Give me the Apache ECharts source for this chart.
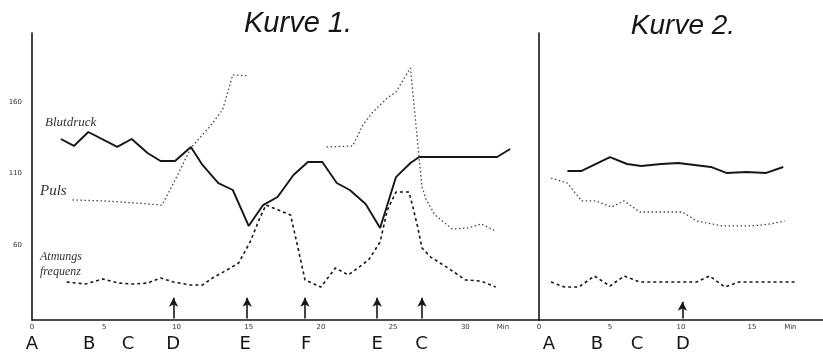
<!DOCTYPE html>
<html>
<head>
<meta charset="utf-8">
<script src="https://cdn.jsdelivr.net/npm/echarts@6/dist/echarts.min.js"></script>
<style>html,body{margin:0;padding:0;background:#fff}#c{width:823px;height:353px}</style>
</head>
<body>
<div id="c"></div>
<script>
// ---- Kurve 1 data: [minute, value] ----
const blutdruck1 = [[2.0,134.4],[2.9,129.5],[3.9,139.3],[5.9,128.8],[6.9,134.4],[8.0,124.5],[8.9,118.9],[9.9,118.9],[11.0,128.8],[11.8,116.1],[12.9,103.4],[13.9,98.5],[15.0,73.2],[16.0,87.9],[17.0,93.6],[18.1,109.1],[19.1,118.2],[20.1,118.2],[21.1,103.4],[22.0,98.5],[23.1,88.6],[24.1,71.8],[25.2,107.6],[26.2,117.5],[26.8,121.7],[32.2,121.7],[33.1,127.4]];
const puls1a = [[2.8,91.5],[5.0,90.8],[7.0,89.5],[9.0,87.9],[9.8,103.4],[11.0,128.1],[12.3,143.0],[13.2,155.0],[13.9,179.6],[14.9,178.9]];
const puls1b = [[20.4,128.8],[22.2,129.5],[22.9,144.2],[23.6,153.4],[24.6,163.3],[25.2,167.5],[26.2,184.4],[26.7,131.6],[27.0,100.6],[27.3,91.5],[27.9,80.9],[29.1,71.0],[30.2,71.8],[31.1,74.6],[32.1,69.6]];
const atmung1 = [[2.4,33.7],[3.7,32.3],[4.9,35.9],[6.0,33.0],[7.0,32.3],[8.0,33.0],[8.9,36.6],[9.8,33.7],[11.0,31.6],[11.8,31.6],[12.5,36.6],[13.5,42.2],[14.3,47.1],[15.1,61.9],[15.8,79.5],[16.2,87.9],[17.9,80.9],[18.4,58.4],[18.9,35.2],[20.0,30.2],[21.0,43.6],[21.9,38.7],[23.3,49.2],[24.1,61.9],[24.6,84.4],[25.2,97.1],[26.1,97.1],[26.3,89.3],[26.7,72.5],[27.0,57.7],[27.6,51.3],[28.8,43.6],[30.0,35.2],[31.1,34.4],[32.1,30.2]];
// ---- Kurve 2 data ----
const blutdruck2 = [[2.0,111.9],[3.0,111.9],[5.0,121.7],[6.2,116.8],[7.2,115.4],[8.6,116.8],[9.8,117.5],[12.1,114.7],[13.2,110.5],[14.6,111.2],[16.0,110.5],[17.2,114.7]];
const puls2 = [[0.85,106.9],[2.0,103.4],[3.0,90.8],[4.0,90.8],[5.1,86.5],[6.0,90.8],[7.1,83.0],[10.1,83.0],[11.1,76.7],[12.9,73.2],[15.0,73.2],[16.3,74.6],[17.3,76.7]];
const atmung2 = [[0.85,33.7],[1.8,30.2],[2.8,30.2],[3.9,38.0],[5.0,30.9],[6.0,38.0],[7.1,33.7],[11.1,33.7],[12.0,38.0],[13.1,30.2],[14.1,33.7],[18.0,33.7]];
// ---- ticks, letters, arrows ----
const xTicks1 = [0,5,10,15,20,25,30];
const minPos1 = 32.6;
const xTicks2 = [0,5,10,15];
const minPos2 = 17.7;
const yTicks = [60,110,160];
const letterNames1 = ['A','B','C','D','E','F','E','C'];
const letterPos1 = [0,3.95,6.65,9.77,14.76,18.99,23.9,26.96];
const letterNames2 = ['A','B','C','D'];
const letterPos2 = [0.7,4.08,6.9,10.14];
const arrows1 = [9.8,14.9,18.9,23.9,27.0];
const arrows2 = [10.1];
const arrowBase = 8;
const arrowTip1 = 22.7;
const arrowTip2 = 19.9;

const ink = '#161616';
const chart = echarts.init(document.getElementById('c'));

function numAxis(grid, max, ticks, minPos) {
  return {
    gridIndex: grid, type: 'value', min: 0, max: max,
    axisLine: {show: true, onZero: false, lineStyle: {color: ink, width: 1.6}},
    axisTick: {show: false}, splitLine: {show: false},
    axisLabel: {
      customValues: ticks.concat([minPos]),
      formatter: v => (v === minPos ? 'Min' : String(v)),
      fontSize: 7, margin: 4, color: '#333', fontFamily: 'DejaVu Sans'
    }
  };
}
function letterAxis(grid, max, pos, names) {
  return {
    gridIndex: grid, type: 'value', min: 0, max: max, position: 'bottom',
    axisLine: {show: false}, axisTick: {show: false}, splitLine: {show: false},
    axisLabel: {
      customValues: pos,
      formatter: v => names[pos.indexOf(v)] || '',
      fontSize: 18, margin: 15, color: ink, fontFamily: 'DejaVu Sans'
    }
  };
}
function arrowLines(xs, tip) {
  return {
    silent: true, symbol: ['none', 'arrow'], symbolSize: [7, 9],
    label: {show: false},
    lineStyle: {color: ink, type: 'solid', width: 1.6},
    data: xs.map(x => [{coord: [x, arrowBase]}, {coord: [x, tip]}])
  };
}
const solid = {color: ink, width: 1.9, type: 'solid'};
const dotted = {color: '#444', width: 1.3, type: [1.5, 2.5]};
const dashed = {color: ink, width: 1.6, type: [3, 3]};
function line(data, style, xi, yi, extra) {
  return Object.assign({
    type: 'line', data: data, xAxisIndex: xi, yAxisIndex: yi,
    symbol: 'none', lineStyle: style, silent: true
  }, extra || {});
}

chart.setOption({
  animation: false,
  backgroundColor: '#fff',
  grid: [
    {left: 32, top: 33, width: 507, height: 287},
    {left: 539, top: 33, width: 284, height: 287}
  ],
  xAxis: [
    numAxis(0, 35.1, xTicks1, minPos1),
    letterAxis(0, 35.1, letterPos1, letterNames1),
    numAxis(1, 20, xTicks2, minPos2),
    letterAxis(1, 20, letterPos2, letterNames2)
  ],
  yAxis: [
    {gridIndex: 0, type: 'value', min: 7, max: 209,
     axisLine: {show: true, lineStyle: {color: ink, width: 1.6}},
     axisTick: {show: false}, splitLine: {show: false},
     axisLabel: {customValues: yTicks, fontSize: 7, margin: 10, color: '#333', fontFamily: 'DejaVu Sans'}},
    {gridIndex: 1, type: 'value', min: 7, max: 209,
     axisLine: {show: true, lineStyle: {color: ink, width: 1.6}},
     axisTick: {show: false}, splitLine: {show: false}, axisLabel: {show: false}}
  ],
  series: [
    line(blutdruck1, solid, 0, 0, {markLine: arrowLines(arrows1, arrowTip1)}),
    line(puls1a, dotted, 0, 0),
    line(puls1b, dotted, 0, 0),
    line(atmung1, dashed, 0, 0),
    line(blutdruck2, solid, 2, 1, {markLine: arrowLines(arrows2, arrowTip2)}),
    line(puls2, dotted, 2, 1),
    line(atmung2, dashed, 2, 1)
  ],
  graphic: [
    {type: 'text', x: 298, y: 24, style: {text: 'Kurve 1.', font: 'italic 29px "Liberation Sans"', fill: ink, textAlign: 'center', textVerticalAlign: 'middle'}},
    {type: 'text', x: 683, y: 26, style: {text: 'Kurve 2.', font: 'italic 28px "Liberation Sans"', fill: ink, textAlign: 'center', textVerticalAlign: 'middle'}},
    {type: 'text', x: 45, y: 123, style: {text: 'Blutdruck', font: 'italic 13px "Liberation Serif"', fill: '#333', textVerticalAlign: 'middle'}},
    {type: 'text', x: 40, y: 191, style: {text: 'Puls', font: 'italic 15px "Liberation Serif"', fill: '#333', textVerticalAlign: 'middle'}},
    {type: 'text', x: 40, y: 257, style: {text: 'Atmungs', font: 'italic 12px "Liberation Serif"', fill: '#333', textVerticalAlign: 'middle'}},
    {type: 'text', x: 40, y: 272, style: {text: 'frequenz', font: 'italic 12px "Liberation Serif"', fill: '#333', textVerticalAlign: 'middle'}}
  ]
});
</script>
</body>
</html>
